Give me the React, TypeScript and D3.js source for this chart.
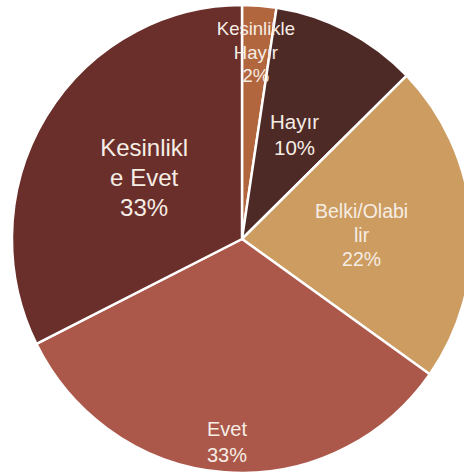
import React from "react";
import * as d3 from "d3";

const categories = ["Kesinlikle Hayır", "Hayır", "Belki/Olabilir", "Evet", "Kesinlikle Evet"];
const values = [2.4, 10.3, 22.1, 32.8, 32.4];
const percentLabels = ["2%", "10%", "22%", "33%", "33%"];
const labelLines = [["Kesinlikle", "Hayır"], ["Hayır"], ["Belki/Olabi", "lir"], ["Evet"], ["Kesinlikl", "e Evet"]];
const colors = ["#b2663e", "#4e2a27", "#cc9c60", "#ab584a", "#6a2f2b"];

// layout settings (label radius as fraction of pie radius, font sizes, line heights)
const labelRadiusFrac = [0.8, 0.5, 0.52, 0.87, 0.5];
const labelAngleShift = [0, 0, 0.05, 0, 0];
const labelFont = [18.5, 20.5, 19.5, 20, 24];
const labelLineH = [23.5, 26, 24, 26, 30];

const W = 464, H = 473;
const cx = 242, cy = 239, R = 234, sx = 0.983;

export default function App() {
  const pie = d3.pie<number>().sort(null).value((d) => d)(values);
  const arc = d3.arc<d3.PieArcDatum<number>>().innerRadius(0).outerRadius(R);
  return (
    <svg width={W} height={H} style={{ position: "absolute", left: 0, top: 0, background: "#fff" }}>
      <g transform={`translate(${cx},${cy}) scale(${sx},1)`}>
        {pie.map((p, i) => (
          <path key={categories[i]} d={arc(p) || ""} fill={colors[i]} stroke="#fff" strokeWidth={2.5} strokeLinejoin="round" />
        ))}
      </g>
      <g transform={`translate(${cx},${cy})`}>
        {pie.map((p, i) => {
          const a = (p.startAngle + p.endAngle) / 2 + labelAngleShift[i];
          const r = R * labelRadiusFrac[i];
          const x = Math.sin(a) * r * sx;
          const y = -Math.cos(a) * r;
          const lines = [...labelLines[i], percentLabels[i]];
          const lh = labelLineH[i];
          const y0 = y - ((lines.length - 1) * lh) / 2;
          return (
            <text key={"t" + i} x={x} textAnchor="middle" fontFamily="'Liberation Sans', Arial, sans-serif" fontSize={labelFont[i]} fill="#f6ede5">
              {lines.map((l, j) => (
                <tspan key={j} x={x} y={y0 + j * lh} dy="0.35em">{l}</tspan>
              ))}
            </text>
          );
        })}
      </g>
    </svg>
  );
}
